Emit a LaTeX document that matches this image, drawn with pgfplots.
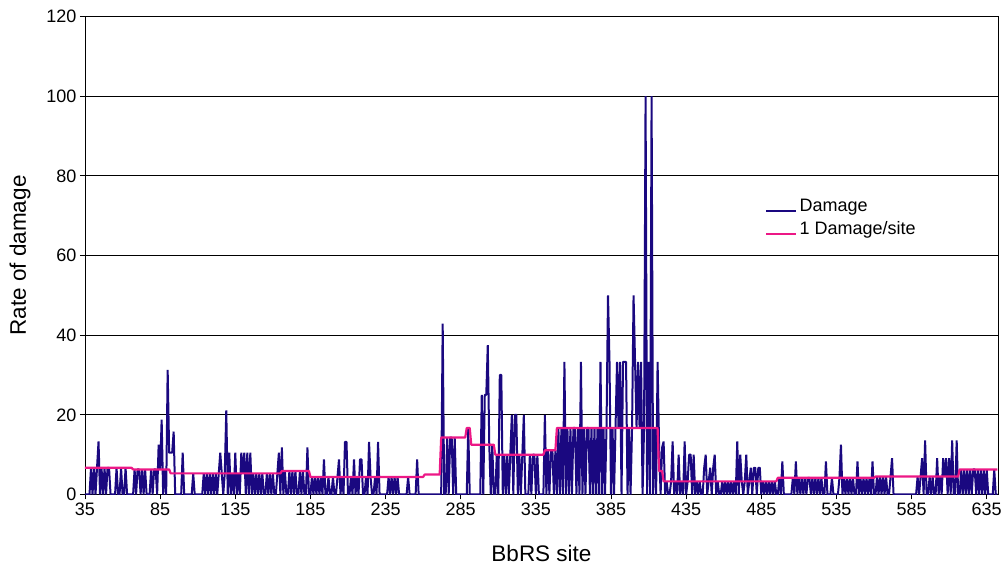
\documentclass[border=0pt]{standalone}
\usepackage{pgfplots}
\pgfplotsset{compat=1.18}
\usepackage{fontspec}
\setmainfont{Liberation Sans}
\definecolor{dmg}{RGB}{26,8,128}
\definecolor{pnk}{RGB}{236,24,134}
\begin{document}
\begin{tikzpicture}
\useasboundingbox (-85pt,-69.5pt) rectangle (917pt,494.5pt);
\begin{axis}[
  at={(0,0)}, anchor=south west,
  scale only axis, width=913pt, height=478pt,
  xmin=35, xmax=642.5, ymin=0, ymax=120,
  xtick={35,85,...,635}, ytick={0,20,...,120},
  xtick pos=left, ytick pos=left,
  tick align=outside, major tick length=5pt,
  tick style={black, line width=0.8pt},
  axis line style={black, line width=0.9pt},
  ymajorgrids, grid style={black, line width=0.9pt},
  tick label style={font=\fontsize{18}{21}\selectfont},
  /pgf/number format/assume math mode=true,
  scaled ticks=false,
  xlabel={BbRS site}, ylabel={Rate of damage},
  label style={font=\fontsize{22.5}{26}\selectfont},
  xlabel style={at={(axis description cs:0.5,-0.1224)}, anchor=center},
  ylabel style={at={(axis description cs:-0.0712,0.5)}, anchor=center},
  legend style={draw=none, fill=none, inner sep=0pt, at={(0.745,0.623)}, anchor=north west,
     font=\fontsize{18}{21}\selectfont, row sep=5pt, nodes={inner sep=2pt}},
  legend cell align=left,
  legend image code/.code={\draw[#1] (0pt,-5pt) -- (30pt,-5pt);},
]
\addplot[dmg, line width=2pt, line join=bevel] coordinates {
(35,0)(36,0)(37,0)(38,0)(39,6.7)(40,0)(41,6.7)(42,0)(43,6.7)(44,13.3)
(45,0)(46,6.7)(47,0)(48,6.7)(49,0)(50,6.7)(51,6.7)(52,0)(53,0)(54,0)
(55,0)(56,6.7)(57,0)(58,0)(59,6.7)(60,0)(61,0)(62,6.7)(63,0)(64,0)
(65,0)(66,0)(67,0)(68,6.3)(69,0)(70,6.3)(71,6.3)(72,0)(73,6.3)(74,0)
(75,6.3)(76,0)(77,0)(78,0)(79,6.3)(80,0)(81,6.3)(82,6.3)(83,0)(84,12.5)
(85,6.3)(86,18.8)(87,0)(88,6.3)(89,0)(90,31.3)(91,10.5)(92,10.5)(93,10.5)(94,15.8)
(95,0)(96,0)(97,0)(98,0)(99,0)(100,10.5)(101,0)(102,0)(103,0)(104,0)
(105,0)(106,0)(107,5.3)(108,0)(109,0)(110,0)(111,0)(112,0)(113,0)(114,5.3)
(115,0)(116,5.3)(117,0)(118,5.3)(119,0)(120,5.3)(121,0)(122,5.3)(123,0)(124,5.3)
(125,10.5)(126,5.3)(127,0)(128,5.3)(129,21.1)(130,0)(131,10.5)(132,0)(133,5.3)(134,0)
(135,10.5)(136,0)(137,5.3)(138,0)(139,10.5)(140,5.3)(141,10.5)(142,0)(143,10.5)(144,0)
(145,10.5)(146,0)(147,5.3)(148,0)(149,5.3)(150,0)(151,5.3)(152,0)(153,5.3)(154,0)
(155,0)(156,5.3)(157,0)(158,5.3)(159,0)(160,5.3)(161,0)(162,0)(163,5.3)(164,10.5)
(165,0)(166,11.8)(167,0)(168,5.9)(169,0)(170,0)(171,5.9)(172,0)(173,5.9)(174,0)
(175,5.9)(176,0)(177,0)(178,5.9)(179,0)(180,5.9)(181,0)(182,0)(183,11.8)(184,0)
(185,0)(186,4.4)(187,0)(188,4.4)(189,0)(190,4.4)(191,0)(192,4.4)(193,0)(194,8.8)
(195,0)(196,0)(197,4.4)(198,0)(199,0)(200,4.4)(201,0)(202,0)(203,4.4)(204,8.8)
(205,0)(206,4.4)(207,0)(208,13.2)(209,13.2)(210,0)(211,0)(212,4.4)(213,0)(214,8.8)
(215,0)(216,4.4)(217,0)(218,8.8)(219,8.8)(220,0)(221,0)(222,4.4)(223,0)(224,13.2)
(225,4.4)(226,0)(227,0)(228,4.4)(229,0)(230,13.2)(231,0)(232,0)(233,0)(234,0)
(235,0)(236,0)(237,4.4)(238,0)(239,4.4)(240,0)(241,4.4)(242,0)(243,4.4)(244,0)
(245,0)(246,0)(247,0)(248,0)(249,0)(250,4.4)(251,0)(252,0)(253,0)(254,0)
(255,0)(256,8.8)(257,0)(258,0)(259,0)(260,0)(261,0)(262,0)(263,0)(264,0)
(265,0)(266,0)(267,0)(268,0)(269,0)(270,0)(271,0)(272,0)(273,42.9)(274,0)
(275,0)(276,14.3)(277,0)(278,14.3)(279,14.3)(280,0)(281,14.3)(282,0)(283,0)(284,0)
(285,0)(286,0)(287,0)(288,0)(289,0)(290,16.7)(291,0)(292,0)(293,0)(294,0)
(295,0)(296,0)(297,0)(298,0)(299,25)(300,0)(301,25)(302,25)(303,37.5)(304,12.5)
(305,0)(306,12.5)(307,0)(308,0)(309,10)(310,0)(311,30)(312,30)(313,0)(314,10)
(315,0)(316,10)(317,0)(318,10)(319,20)(320,0)(321,20)(322,20)(323,0)(324,10)
(325,0)(326,10)(327,20)(328,0)(329,0)(330,0)(331,10)(332,0)(333,10)(334,10)
(335,0)(336,10)(337,0)(338,0)(339,0)(340,0)(341,20)(342,0)(343,11.1)(344,0)
(345,11.1)(346,11.1)(347,0)(348,11.1)(349,0)(350,16.7)(351,0)(352,16.7)(353,0)(354,33.3)
(355,0)(356,16.7)(357,0)(358,16.7)(359,0)(360,16.7)(361,16.7)(362,0)(363,16.7)(364,0)
(365,33.3)(366,0)(367,16.7)(368,0)(369,16.7)(370,16.7)(371,0)(372,16.7)(373,0)(374,16.7)
(375,0)(376,16.7)(377,0)(378,33.3)(379,0)(380,16.7)(381,0)(382,16.7)(383,50)(384,33.3)
(385,0)(386,16.7)(387,0)(388,16.7)(389,33.3)(390,16.7)(391,33.3)(392,0)(393,33.3)(394,33.3)
(395,33.3)(396,0)(397,16.7)(398,0)(399,16.7)(400,50)(401,33.3)(402,16.7)(403,33.3)(404,16.7)
(405,33.3)(406,0)(407,16.7)(408,100)(409,0)(410,33.3)(411,0)(412,100)(413,0)(414,16.7)
(415,0)(416,33.3)(417,11.8)(418,0)(419,11.8)(420,13.3)(421,0)(422,3.3)(423,0)(424,0)
(425,3.3)(426,13.3)(427,0)(428,3.3)(429,0)(430,10)(431,0)(432,3.3)(433,0)(434,13.3)
(435,0)(436,3.3)(437,10)(438,10)(439,0)(440,10)(441,0)(442,3.3)(443,0)(444,3.3)
(445,0)(446,0)(447,6.7)(448,10)(449,0)(450,3.3)(451,6.7)(452,0)(453,6.7)(454,10)
(455,0)(456,3.3)(457,0)(458,0)(459,3.3)(460,0)(461,3.3)(462,0)(463,3.3)(464,0)
(465,3.3)(466,0)(467,3.3)(468,0)(469,13.3)(470,0)(471,10)(472,3.3)(473,0)(474,3.3)
(475,10)(476,0)(477,3.3)(478,6.7)(479,0)(480,6.7)(481,6.7)(482,0)(483,6.7)(484,6.7)
(485,0)(486,3.3)(487,0)(488,3.3)(489,0)(490,3.3)(491,0)(492,3.3)(493,0)(494,3.3)
(495,0)(496,0)(497,4.2)(498,0)(499,8.3)(500,0)(501,0)(502,0)(503,0)(504,0)
(505,0)(506,4.2)(507,0)(508,8.3)(509,0)(510,4.2)(511,0)(512,4.2)(513,0)(514,4.2)
(515,0)(516,4.2)(517,4.2)(518,0)(519,4.2)(520,0)(521,4.2)(522,0)(523,4.2)(524,0)
(525,4.2)(526,0)(527,0)(528,8.3)(529,0)(530,0)(531,0)(532,4.2)(533,0)(534,0)
(535,0)(536,0)(537,4.2)(538,12.5)(539,0)(540,4.2)(541,0)(542,4.2)(543,0)(544,4.2)
(545,0)(546,4.2)(547,0)(548,0)(549,8.3)(550,0)(551,4.2)(552,0)(553,4.2)(554,0)
(555,4.2)(556,0)(557,4.2)(558,0)(559,8.3)(560,0)(561,0)(562,4.5)(563,0)(564,4.5)
(565,0)(566,4.5)(567,0)(568,4.5)(569,0)(570,0)(571,4.5)(572,9.1)(573,0)(574,0)
(575,0)(576,0)(577,0)(578,0)(579,0)(580,0)(581,0)(582,0)(583,0)(584,0)
(585,0)(586,0)(587,0)(588,0)(589,4.5)(590,0)(591,4.5)(592,9.1)(593,0)(594,13.6)
(595,0)(596,0)(597,4.5)(598,0)(599,4.5)(600,0)(601,0)(602,9.1)(603,0)(604,4.5)
(605,0)(606,9.1)(607,4.5)(608,9.1)(609,0)(610,9.1)(611,0)(612,13.6)(613,0)(614,0)
(615,13.6)(616,0)(617,0)(618,6.3)(619,0)(620,6.3)(621,0)(622,6.3)(623,0)(624,6.3)
(625,0)(626,6.3)(627,6.3)(628,0)(629,6.3)(630,0)(631,6.3)(632,0)(633,6.3)(634,0)
(635,6.3)(636,0)(637,0)(638,0)(639,0)(640,6.3)(641,0)(642,0)
};
\addlegendentry{Damage}
\addplot[pnk, line width=2.2pt, line join=bevel] coordinates {
(35,6.7)(66,6.7)(67,6.3)(91,6.3)(92,5.3)(165,5.3)(166,5.9)(184,5.9)(185,4.4)(260,4.4)
(261,5.0)(271,5.0)(272,14.3)(288,14.3)(289,16.7)(291,16.7)(292,12.5)(307,12.5)(308,10)(340,10)
(341,11.1)(348,11.1)(349,16.7)(416,16.7)(417,5.9)(419,5.9)(420,3.3)(495,3.3)(496,4.2)(560,4.2)
(561,4.5)(616,4.5)(617,6.3)(642,6.3)
};
\addlegendentry{1 Damage/site}
\end{axis}
\end{tikzpicture}
\end{document}
